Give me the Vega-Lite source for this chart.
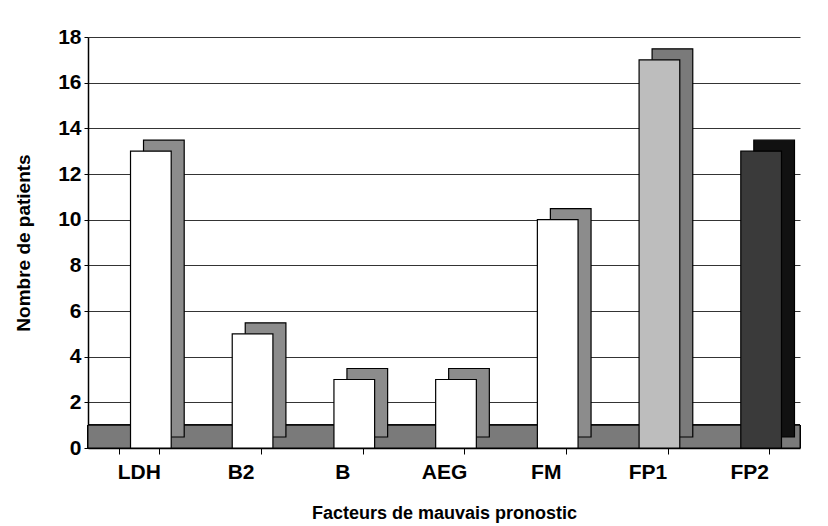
{
  "$schema": "https://vega.github.io/schema/vega-lite/v6.json",
  "width": 712,
  "height": 411,
  "autosize": {"type": "none"},
  "padding": {"left": 88, "top": 37, "right": 28, "bottom": 78},
  "background": "white",
  "config": {
    "view": {"stroke": null},
    "font": "Liberation Sans",
    "axisY": {"labelFontSize": 21, "labelFontWeight": "bold", "labelColor": "black"},
    "axisX": {"labelFontSize": 21, "labelFontWeight": "bold", "labelColor": "black"}
  },
  "data": {
    "values": [
      {"facteur": "LDH", "patients": 13, "groupe": "a"},
      {"facteur": "B2", "patients": 5, "groupe": "a"},
      {"facteur": "B", "patients": 3, "groupe": "a"},
      {"facteur": "AEG", "patients": 3, "groupe": "a"},
      {"facteur": "FM", "patients": 10, "groupe": "a"},
      {"facteur": "FP1", "patients": 17, "groupe": "b"},
      {"facteur": "FP2", "patients": 13, "groupe": "c"}
    ]
  },
  "encoding": {
    "x": {
      "field": "facteur",
      "type": "nominal",
      "sort": null,
      "scale": {"paddingInner": 0.6, "paddingOuter": 0.3},
      "axis": {
        "title": "Facteurs de mauvais pronostic",
        "titleFontSize": 18,
        "titleFontWeight": "bold",
        "titlePadding": 22,
        "labelFontSize": 21,
        "labelAngle": 0,
        "labelPadding": 7,
        "domainColor": "black",
        "domainWidth": 1.5,
        "tickColor": "black",
        "tickSize": 6,
        "tickBand": "extent"
      }
    },
    "y": {
      "field": "patients",
      "type": "quantitative",
      "scale": {"domain": [0, 18]},
      "axis": {
        "title": "Nombre de patients",
        "titleFontSize": 19,
        "titleFontWeight": "bold",
        "titlePadding": 24,
        "labelFontSize": 21,
        "labelPadding": 3,
        "values": [0, 2, 4, 6, 8, 10, 12, 14, 16, 18],
        "domainColor": "black",
        "domainWidth": 1.5,
        "tickColor": "black",
        "tickSize": 4,
        "grid": true,
        "gridColor": "black",
        "gridWidth": 0.8
      }
    }
  },
  "layer": [
    {
      "mark": {"type": "rect", "color": "#7a7a7a", "stroke": "black", "strokeWidth": 1},
      "encoding": {
        "x": null,
        "y": {"datum": 0, "type": "quantitative"},
        "y2": {"datum": 1}
      }
    },
    {
      "mark": {"type": "bar", "stroke": "black", "strokeWidth": 1.2, "xOffset": 25, "x2Offset": 25, "yOffset": -11, "y2Offset": -11},
      "encoding": {
        "color": {
          "field": "groupe",
          "type": "nominal",
          "scale": {"domain": ["a", "b", "c"], "range": ["#8c8c8c", "#7a7a7a", "#111111"]},
          "legend": null
        }
      }
    },
    {
      "mark": {"type": "bar", "stroke": "black", "strokeWidth": 1.2, "xOffset": 12, "x2Offset": 12},
      "encoding": {
        "color": {
          "field": "groupe",
          "type": "nominal",
          "scale": {"domain": ["a", "b", "c"], "range": ["#ffffff", "#bdbdbd", "#3a3a3a"]},
          "legend": null
        }
      }
    }
  ],
  "resolve": {"scale": {"color": "independent"}}
}
